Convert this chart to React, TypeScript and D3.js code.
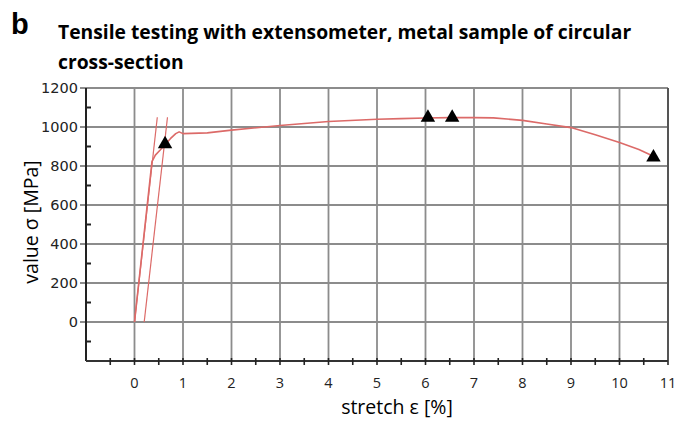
import React from 'react';
import * as d3 from 'd3';

// stress-strain curve
const strain = [0, 0.36, 0.43, 0.53, 0.63, 0.74, 0.85, 0.92, 1.0, 1.5, 2.0, 3.0, 4.0, 5.0, 5.5, 6.0, 6.5, 7.0, 7.4, 8.0, 8.5, 9.0, 9.5, 10.0, 10.4, 10.6, 10.7];
const stress = [0, 822, 856, 882, 910, 940, 966, 975, 966, 970, 984, 1008, 1028, 1040, 1043, 1046, 1048, 1048, 1047, 1034, 1015, 997, 960, 920, 885, 862, 845];

// elastic lines (modulus line and 0.2% offset line)
const elasticStrain = [0, 0.47];
const offsetStrain = [0.2, 0.68];
const elasticStress = [0, 1050];

// triangle markers
const markerStrain = [0.63, 6.05, 6.55, 10.7];
const markerStress = [912, 1048, 1048, 845];

const xTicks = [0, 1, 2, 3, 4, 5, 6, 7, 8, 9, 10, 11];
const yTicks = [0, 200, 400, 600, 800, 1000, 1200];

const title1 = 'Tensile testing with extensometer, metal sample of circular';
const title2 = 'cross-section';

const W = 690;
const H = 425;
const left = 86;
const right = 668;
const top = 88;
const bottom = 361;

const App: React.FC = () => {
  const x = d3.scaleLinear().domain([-1, 11]).range([left, right]);
  const y = d3.scaleLinear().domain([-200, 1200]).range([bottom, top]);

  const line = d3.line<[number, number]>()
    .x(d => x(d[0]))
    .y(d => y(d[1]));

  const mainPts = strain.map((s, i) => [s, stress[i]] as [number, number]);
  const elastic = elasticStrain.map((s, i) => [s, elasticStress[i]] as [number, number]);
  const offset = offsetStrain.map((s, i) => [s, elasticStress[i]] as [number, number]);
  const tri = d3.symbol().type(d3.symbolTriangle).size(90)();

  const vGrid = d3.range(0, 11, 1);
  const hGrid = d3.range(0, 1001, 200);
  const xMinor = d3.range(-0.5, 11, 0.5);
  const yMinor = d3.range(-100, 1200, 100).filter(v => v % 200 !== 0);

  const gridColor = '#8c8c8c';
  const red = '#dc6a68';
  const labelFont = "'Open Sans', sans-serif";

  return (
    <svg width={W} height={H} style={{ position: 'absolute', left: 0, top: 0 }}>
      <rect width={W} height={H} fill="#fff" />
      <text x={11} y={34} fontFamily="'Liberation Sans', Arial, sans-serif" fontWeight="bold" fontSize={29}>b</text>
      <text x={58} y={39} fontFamily={labelFont} fontWeight="bold" fontSize={19.3}>{title1}</text>
      <text x={58} y={69} fontFamily={labelFont} fontWeight="bold" fontSize={19.3}>{title2}</text>

      {/* grid */}
      {vGrid.map(v => (
        <line key={'v' + v} x1={x(v)} x2={x(v)} y1={top} y2={bottom} stroke={gridColor} strokeWidth={1.8} />
      ))}
      {hGrid.map(v => (
        <line key={'h' + v} x1={left - 6} x2={right} y1={y(v)} y2={y(v)} stroke={gridColor} strokeWidth={1.8} />
      ))}
      <line x1={left - 6} x2={right} y1={top} y2={top} stroke={gridColor} strokeWidth={1.8} />
      <line x1={right} x2={right} y1={top} y2={bottom + 4} stroke="#555" strokeWidth={2} />

      {/* axes */}
      <line x1={left} x2={left} y1={top} y2={bottom} stroke="#222" strokeWidth={2} />
      <line x1={left} x2={right} y1={bottom} y2={bottom} stroke="#333" strokeWidth={2} />
      {yMinor.map(v => (
        <line key={'ym' + v} x1={left - 1} x2={left + 5} y1={y(v)} y2={y(v)} stroke="#222" strokeWidth={2} />
      ))}
      {xMinor.map(v => (
        <line key={'xm' + v} x1={x(v)} x2={x(v)} y1={bottom - 3} y2={bottom + 4} stroke="#222" strokeWidth={1.6} />
      ))}

      {/* tick labels */}
      {yTicks.map(v => (
        <text key={'yl' + v} x={left - 8} y={y(v) + 5} textAnchor="end" fontFamily="'DejaVu Sans', Verdana, sans-serif" fontSize={14.5} fill="#222">{v}</text>
      ))}
      {xTicks.map(v => (
        <text key={'xl' + v} x={x(v)} y={388} textAnchor="middle" fontFamily={labelFont} fontSize={14.5} fill="#222">{v}</text>
      ))}

      {/* axis titles */}
      <text x={397} y={414} textAnchor="middle" fontFamily={labelFont} fontSize={19.5}>stretch ε [%]</text>
      <text transform="translate(38,222) rotate(-90)" textAnchor="middle" fontFamily={labelFont} fontSize={19.5}>value σ [MPa]</text>

      {/* curves */}
      <path d={line(elastic) || ''} fill="none" stroke={red} strokeWidth={1.2} />
      <path d={line(offset) || ''} fill="none" stroke={red} strokeWidth={1.2} />
      <path d={line(mainPts) || ''} fill="none" stroke={red} strokeWidth={1.6} strokeLinejoin="round" />

      {markerStrain.map((s, i) => (
        <path key={'m' + i} d={tri || ''} transform={`translate(${x(s)},${y(markerStress[i])})`} fill="#000" />
      ))}
    </svg>
  );
};

export default App;
